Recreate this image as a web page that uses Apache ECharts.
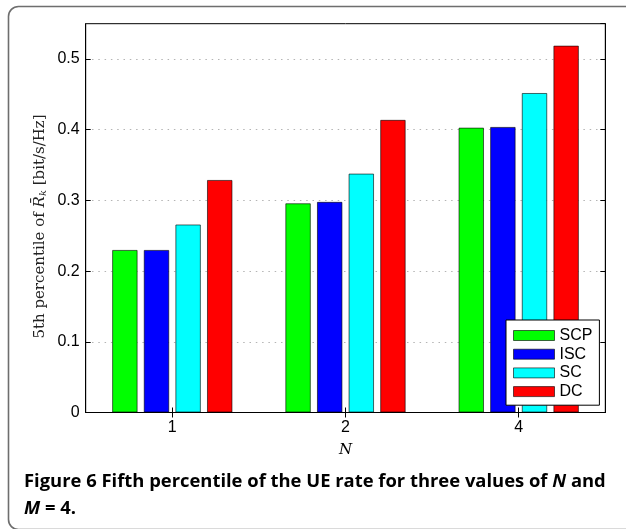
<!DOCTYPE html>
<html><head><meta charset="utf-8">
<script src="https://cdn.jsdelivr.net/npm/echarts@6/dist/echarts.min.js"></script>
<style>html,body{margin:0;padding:0;background:#fff}#c{width:626px;height:529px}</style>
</head><body><div id="c"></div>
<script>
var categories = ['1', '2', '4'];
var seriesNames = ['SCP', 'ISC', 'SC', 'DC'];
var scp = [0.230, 0.296, 0.403];
var isc = [0.230, 0.298, 0.404];
var sc  = [0.266, 0.338, 0.452];
var dc  = [0.329, 0.414, 0.519];
var yTicks = [0, 0.1, 0.2, 0.3, 0.4, 0.5];

var colors = ['#00ff00', '#0000ff', '#00ffff', '#ff0000'];
var values = [scp, isc, sc, dc];

var chart = echarts.init(document.getElementById('c'), null, {renderer: 'canvas'});
var tickFont = 'Liberation Sans, Arial, sans-serif';
var serif = 'DejaVu Serif, serif';
function bar(i) {
  return {
    name: seriesNames[i], type: 'bar', data: values[i], xAxisIndex: 0, yAxisIndex: 0,
    barWidth: 25.5, barGap: '24%',
    itemStyle: {color: colors[i], borderColor: 'rgba(0,0,0,0.6)', borderWidth: 1},
    emphasis: {disabled: true}, animation: false
  };
}
var yCommon = {
  type: 'value', min: 0, max: 0.55, interval: 0.1,
  axisLine: {show: true, lineStyle: {color: '#000', width: 1}},
  axisTick: {show: true, inside: true, length: 5, lineStyle: {color: '#000'}}
};
var option = {
  animation: false,
  grid: {left: 85.7, top: 23.7, right: 20.7, bottom: 116.5, containLabel: false,
         show: true, borderColor: '#000', borderWidth: 1, backgroundColor: 'transparent'},
  legend: {
    orient: 'vertical', left: 506, top: 320,
    data: seriesNames, icon: 'rect',
    itemWidth: 41, itemHeight: 10, itemGap: 2.7,
    padding: [7.5, 7, 5.6, 7],
    backgroundColor: '#fff', borderColor: '#000', borderWidth: 1, borderRadius: 0,
    textStyle: {fontFamily: tickFont, fontSize: 16, color: '#000', lineHeight: 16},
    itemStyle: {borderColor: 'rgba(0,0,0,0.6)', borderWidth: 1},
    selectedMode: false
  },
  xAxis: [{
    type: 'category', data: categories, position: 'bottom',
    axisLine: {show: true, lineStyle: {color: '#000', width: 1}},
    axisTick: {show: true, inside: true, length: 5, alignWithLabel: true, lineStyle: {color: '#000'}},
    axisLabel: {fontFamily: tickFont, fontSize: 16, color: '#000', margin: 7},
    name: 'N', nameLocation: 'middle', nameGap: 30,
    nameTextStyle: {fontFamily: serif, fontStyle: 'italic', fontSize: 15, color: '#000'}
  }, {
    type: 'category', data: categories, position: 'top',
    axisLine: {show: true, lineStyle: {color: '#000', width: 1}},
    axisTick: {show: true, inside: true, length: 5, alignWithLabel: true, lineStyle: {color: '#000'}},
    axisLabel: {show: false}
  }],
  yAxis: [Object.assign({}, yCommon, {
    position: 'left',
    axisLabel: {fontFamily: tickFont, fontSize: 16, color: '#000', margin: 6, showMaxLabel: false,
      formatter: function (v) { var r = Math.round(v * 10) / 10; return (Math.abs(v - r) < 1e-6 && yTicks.indexOf(r) >= 0) ? String(r) : ''; }},
    splitLine: {show: true, showMinLine: false, showMaxLine: false,
      lineStyle: {color: '#b4b4b4', type: [1.5, 4.8], width: 1}}
  }), Object.assign({}, yCommon, {
    position: 'right', axisLabel: {show: false}, splitLine: {show: false}
  })],
  series: [bar(0), bar(1), bar(2), bar(3)],
  graphic: [
    {type: 'rect', silent: true, z: -10,
     shape: {x: 8.5, y: 6.5, width: 700, height: 523, r: 10},
     style: {fill: 'none', stroke: '#6e6e6e', lineWidth: 1.6}},
    {type: 'text', x: 40, y: 226.5, rotation: Math.PI / 2, silent: true,
     style: {
       text: '{a|5th percentile of }{r|R\u0304}{s|k}{a| [bit/s/Hz]}',
       align: 'center', verticalAlign: 'middle',
       rich: {
         a: {fontFamily: serif, fontSize: 15, fill: '#222'},
         r: {fontFamily: serif, fontStyle: 'italic', fontSize: 15, fill: '#222'},
         s: {fontFamily: serif, fontStyle: 'italic', fontSize: 10, fill: '#222', padding: [7, 0, 0, 0]}
       }
     }},
    {type: 'text', left: 24, top: 473, silent: true,
     style: {
       text: '{b|Figure 6 Fifth percentile of the UE rate for three values of }{i|N}{b| and}\n{i|M}{b| = 4.}',
       rich: {
         b: {fontFamily: 'Open Sans, sans-serif', fontWeight: 'bold', fontSize: 18.4, fill: '#000', lineHeight: 27},
         i: {fontFamily: 'Open Sans, sans-serif', fontWeight: 'bold', fontStyle: 'italic', fontSize: 18.4, fill: '#000', lineHeight: 27}
       }
     }}
  ]
};
chart.setOption(option);
</script></body></html>
